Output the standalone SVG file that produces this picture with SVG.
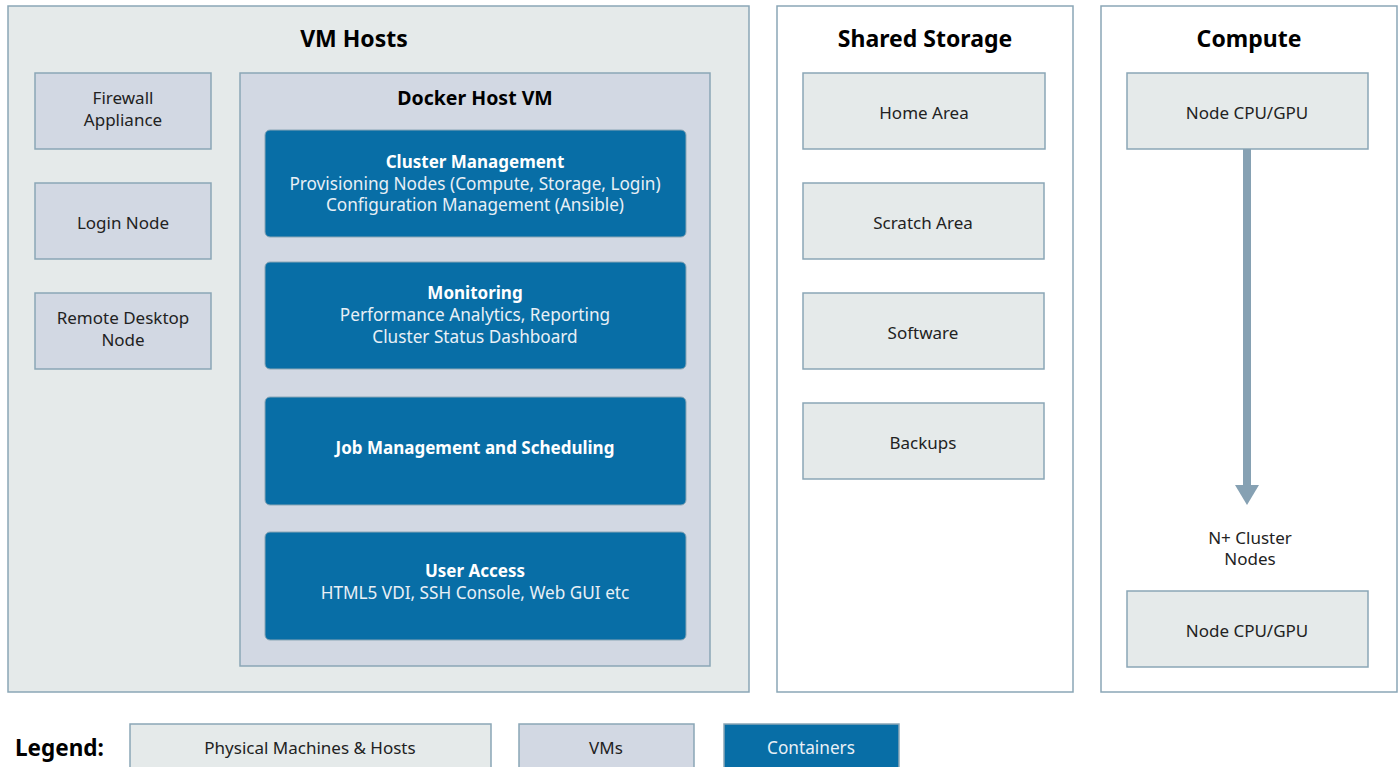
<svg xmlns="http://www.w3.org/2000/svg" width="1400" height="767" viewBox="0 0 1400 767">
<style>
text{font-family:"Noto Sans","Open Sans","DejaVu Sans",sans-serif;text-anchor:middle;}
.phys{fill:#e5eaea;stroke:#8aa6b6;stroke-width:1.5;}
.white{fill:#ffffff;stroke:#8aa6b6;stroke-width:1.5;}
.vm{fill:#d2d8e3;stroke:#8aa6b6;stroke-width:1.5;}
.ct{fill:#086ea6;stroke:#8aa6b6;stroke-width:1;}
.title{font-size:23px;font-weight:bold;fill:#000;}
.sub{font-size:19.5px;font-weight:bold;fill:#000;}
.lbl{font-size:17px;fill:#222;}
.ctb{font-size:17px;font-weight:bold;fill:#fff;}
.ctt{font-size:17.2px;fill:#e8f0f6;}
</style>
<defs>
<marker id="ah" markerWidth="3" markerHeight="3" refX="0" refY="1.5" orient="auto" markerUnits="strokeWidth">
<path d="M0,0 L2.5,1.5 L0,3 Z" fill="#86a1b3"/>
</marker>
</defs>

<g id="vm-hosts">
<rect class="phys" x="8" y="6" width="741" height="686"/>
<text class="title" x="354" y="47">VM Hosts</text>
</g>
<g id="shared-storage">
<rect class="white" x="777" y="6" width="296" height="686"/>
<text class="title" x="925" y="47">Shared Storage</text>
</g>
<g id="compute">
<rect class="white" x="1101" y="6" width="296" height="686"/>
<text class="title" x="1249" y="47">Compute</text>
</g>

<g id="firewall">
<rect class="vm" x="35" y="73" width="176" height="76"/>
<text class="lbl" x="123" y="104">Firewall</text>
<text class="lbl" x="123" y="126">Appliance</text>
</g>
<g id="login-node">
<rect class="vm" x="35" y="183" width="176" height="76"/>
<text class="lbl" x="123" y="229">Login Node</text>
</g>
<g id="remote-desktop">
<rect class="vm" x="35" y="293" width="176" height="76"/>
<text class="lbl" x="123" y="324">Remote Desktop</text>
<text class="lbl" x="123" y="346">Node</text>
</g>

<g id="docker-host">
<rect class="vm" x="240" y="73" width="470" height="593"/>
<text class="sub" x="475" y="105">Docker Host VM</text>
</g>
<g id="cluster-management">
<rect class="ct" x="265" y="130" width="421" height="107" rx="5"/>
<text class="ctb" x="475" y="168">Cluster Management</text>
<text class="ctt" x="475" y="190">Provisioning Nodes (Compute, Storage, Login)</text>
<text class="ctt" x="475" y="211">Configuration Management (Ansible)</text>
</g>
<g id="monitoring">
<rect class="ct" x="265" y="262" width="421" height="107" rx="5"/>
<text class="ctb" x="475" y="299">Monitoring</text>
<text class="ctt" x="475" y="321">Performance Analytics, Reporting</text>
<text class="ctt" x="475" y="343">Cluster Status Dashboard</text>
</g>
<g id="job-management">
<rect class="ct" x="265" y="397" width="421" height="108" rx="5"/>
<text class="ctb" x="475" y="454">Job Management and Scheduling</text>
</g>
<g id="user-access">
<rect class="ct" x="265" y="532" width="421" height="108" rx="5"/>
<text class="ctb" x="475" y="577">User Access</text>
<text class="ctt" x="475" y="599">HTML5 VDI, SSH Console, Web GUI etc</text>
</g>

<g id="home-area">
<rect class="phys" x="803" y="73" width="242" height="76"/>
<text class="lbl" x="924" y="119">Home Area</text>
</g>
<g id="scratch-area">
<rect class="phys" x="803" y="183" width="241" height="76"/>
<text class="lbl" x="923" y="229">Scratch Area</text>
</g>
<g id="software">
<rect class="phys" x="803" y="293" width="241" height="76"/>
<text class="lbl" x="923" y="339">Software</text>
</g>
<g id="backups">
<rect class="phys" x="803" y="403" width="241" height="76"/>
<text class="lbl" x="923" y="449">Backups</text>
</g>

<g id="node-top">
<rect class="phys" x="1127" y="73" width="241" height="76"/>
<text class="lbl" x="1247" y="119">Node CPU/GPU</text>
</g>
<g id="cluster-nodes-label">
<text class="lbl" x="1250" y="544">N+ Cluster</text>
<text class="lbl" x="1250" y="565">Nodes</text>
</g>
<g id="node-bottom">
<rect class="phys" x="1127" y="591" width="241" height="76"/>
<text class="lbl" x="1247" y="637">Node CPU/GPU</text>
</g>

<g id="connectors">
<line x1="1247" y1="149" x2="1247" y2="485" stroke="#86a1b3" stroke-width="8" marker-end="url(#ah)"/>
</g>

<g id="legend">
<text x="15" y="756" style="font-size:22.5px;font-weight:bold;text-anchor:start;fill:#000">Legend:</text>
<rect class="phys" x="130" y="724" width="361" height="50"/>
<text class="lbl" x="310" y="754">Physical Machines &amp; Hosts</text>
<rect class="vm" x="519" y="724" width="175" height="50"/>
<text class="lbl" x="606" y="754">VMs</text>
<rect class="ct" x="724" y="724" width="175" height="50" style="stroke-width:1.5"/>
<text class="ctt" x="811" y="754">Containers</text>
</g>
</svg>
